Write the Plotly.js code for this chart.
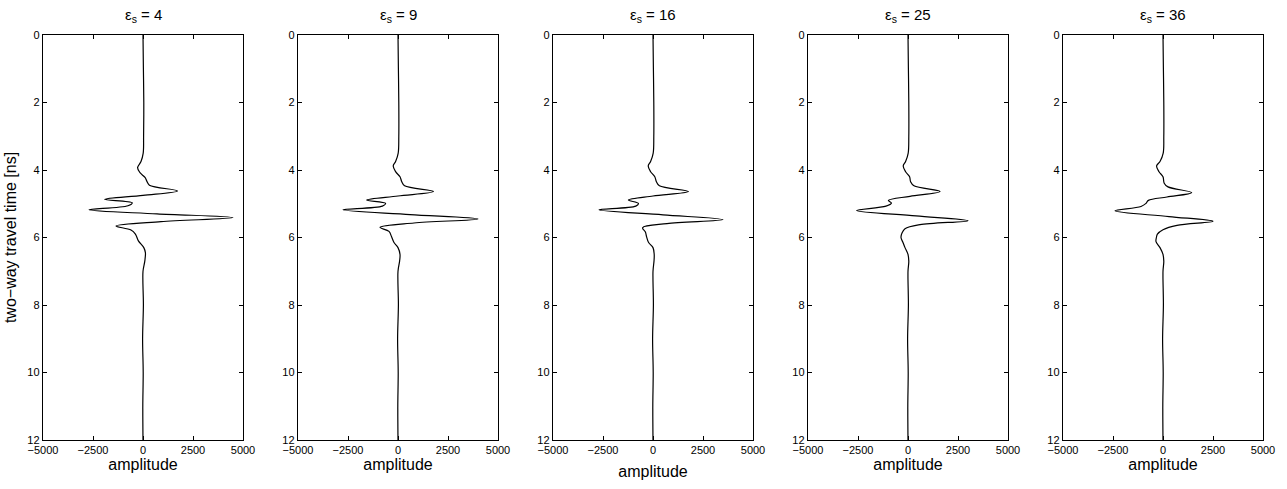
<!DOCTYPE html>
<html>
<head>
<meta charset="utf-8">
<script src="https://cdn.plot.ly/plotly-3.0.1.min.js"></script>
<style>html,body{margin:0;padding:0;background:#fff;}#chart{width:1287px;height:489px;}</style>
</head>
<body>
<div id="chart"></div>
<script>
// Panel labels (relative permittivity of soil)
const epsValues = [4, 9, 16, 25, 36];
const xTickVals = [-5000, -2500, 0, 2500, 5000];
const yTickVals = [0, 2, 4, 6, 8, 10, 12];

// two-way travel time [ns] and amplitude
const t1 = [0, 1, 2, 3, 3.5, 3.75, 3.93, 4.08, 4.22, 4.33, 4.45, 4.62, 4.75, 4.87, 4.97, 5.06, 5.18, 5.3, 5.41, 5.53, 5.66, 5.78, 5.9, 6.1, 6.3, 6.45, 6.7, 7, 8, 9, 10, 11, 12];
const a1 = [0, 20, 40, 30, 10, -100, -270, -150, 100, 190, 320, 1720, 0, -1920, -540, -750, -2700, 700, 4500, 900, -1350, -600, -380, -230, 40, 120, 90, 0, 20, -20, 10, -10, 0];

const t2 = [0, 1, 2, 3, 3.5, 3.75, 3.88, 4.05, 4.2, 4.35, 4.47, 4.64, 4.77, 4.89, 4.99, 5.07, 5.18, 5.32, 5.45, 5.57, 5.7, 5.82, 5.98, 6.15, 6.3, 6.5, 6.7, 7, 8, 9, 10, 11, 12];
const a2 = [0, 20, 40, 40, 10, -120, -240, -120, 100, 190, 330, 1770, 0, -1570, -620, -780, -2750, 600, 4000, 800, -900, -450, -320, -200, 0, 100, 80, 0, 20, -20, 10, -10, 0];

const t3 = [0, 1, 2, 3, 3.5, 3.75, 3.88, 4.05, 4.2, 4.35, 4.47, 4.64, 4.77, 4.89, 4.99, 5.07, 5.18, 5.33, 5.47, 5.59, 5.71, 5.84, 5.98, 6.15, 6.3, 6.5, 6.7, 7, 8, 9, 10, 11, 12];
const a3 = [0, 20, 40, 40, 10, -120, -240, -120, 90, 170, 320, 1770, 0, -1230, -730, -860, -2700, 500, 3500, 700, -520, -380, -320, -220, 0, 60, 50, 0, 20, -20, 10, -10, 0];

const t4 = [0, 1, 2, 3, 3.5, 3.75, 3.88, 4.05, 4.2, 4.35, 4.47, 4.64, 4.78, 4.9, 4.98, 5.07, 5.2, 5.36, 5.5, 5.62, 5.74, 5.87, 6.0, 6.15, 6.3, 6.5, 6.7, 7, 8, 9, 10, 11, 12];
const a4 = [0, 20, 40, 40, 10, -120, -240, -120, 80, 130, 300, 1600, 100, -980, -830, -1100, -2570, 400, 3000, 600, -150, -300, -350, -250, -150, 0, 40, 0, 20, -20, 10, -10, 0];

const t5 = [0, 1, 2, 3, 3.5, 3.75, 3.88, 4.05, 4.2, 4.39, 4.5, 4.67, 4.8, 4.9, 4.99, 5.08, 5.21, 5.38, 5.52, 5.64, 5.77, 5.9, 6.0, 6.12, 6.3, 6.5, 6.7, 7, 8, 9, 10, 11, 12];
const a5 = [0, 20, 40, 40, 10, -150, -320, -200, 0, 60, 250, 1430, 200, -730, -850, -1100, -2400, 300, 2500, 700, 0, -280, -330, -350, -150, 0, 40, 0, 20, -20, 10, -10, 0];

const times = [t1, t2, t3, t4, t5];
const amps = [a1, a2, a3, a4, a5];

const W = 1287, H = 489;
const plotLeft = [43, 298, 553, 808, 1063];
const plotWidth = 200;
const yTop = 35, yBot = 440;
const xTitleStandoff = [2, 2, 10, 2, 2];

const FONT = 'Liberation Sans, Arial, Helvetica, sans-serif';
const data = [];
const layout = {
  width: W, height: H,
  margin: {l: 0, r: 0, t: 0, b: 0},
  paper_bgcolor: '#fff', plot_bgcolor: '#fff',
  showlegend: false,
  font: {family: FONT, size: 11, color: '#000'},
  annotations: []
};

for (let i = 0; i < 5; i++) {
  const s = i === 0 ? '' : String(i + 1);
  data.push({
    x: amps[i], y: times[i],
    xaxis: 'x' + s, yaxis: 'y' + s,
    type: 'scatter', mode: 'lines',
    line: {color: '#000', width: 1.2, shape: 'spline', smoothing: 1},
    hoverinfo: 'skip'
  });
  const x0 = plotLeft[i] / W, x1 = (plotLeft[i] + plotWidth) / W;
  layout['xaxis' + s] = {
    domain: [x0, x1], anchor: 'y' + s,
    range: [-5000, 5000], tickvals: xTickVals,
    ticks: 'inside', ticklen: 4, tickcolor: '#000',
    showline: true, linecolor: '#000', linewidth: 1.2, mirror: 'ticks',
    showgrid: false, zeroline: false,
    tickfont: {size: 11, family: FONT, color: '#000'},
    title: {text: 'amplitude', font: {size: 16, family: FONT, color: '#000'}, standoff: xTitleStandoff[i]},
    fixedrange: true
  };
  const yax = {
    domain: [1 - yBot / H, 1 - yTop / H], anchor: 'x' + s,
    range: [12, 0], tickvals: yTickVals,
    ticks: 'inside', ticklen: 4, tickcolor: '#000',
    showline: true, linecolor: '#000', linewidth: 1.2, mirror: 'ticks',
    showgrid: false, zeroline: false,
    tickfont: {size: 11, family: FONT, color: '#000'},
    ticklabelstandoff: 0,
    fixedrange: true
  };
  if (i === 0) {
    yax.title = {text: 'two\u2212way travel time [ns]', font: {size: 16, family: FONT, color: '#000'}, standoff: 6};
  }
  layout['yaxis' + s] = yax;
  layout.annotations.push({
    xref: 'paper', yref: 'paper',
    x: (x0 + x1) / 2, y: 1 - 16 / H,
    xanchor: 'center', yanchor: 'middle',
    text: '\u03b5<sub>s</sub> = ' + epsValues[i],
    showarrow: false, font: {size: 15, family: FONT, color: '#000'}
  });
}

Plotly.newPlot('chart', data, layout, {displayModeBar: false, staticPlot: true});
</script>
</body>
</html>
